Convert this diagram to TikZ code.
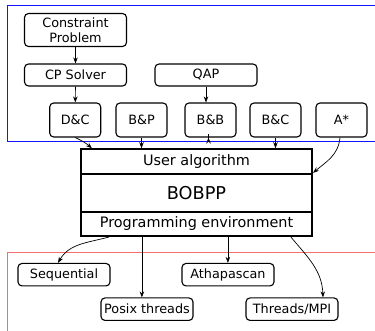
\documentclass[tikz,border=0pt]{standalone}
\usepackage{fontspec}
\setmainfont{DejaVu Sans}
\usetikzlibrary{calc,arrows.meta}
\definecolor{upperblue}{RGB}{20,20,255}
\definecolor{lowerred}{RGB}{245,110,110}
\tikzset{
	algbox/.style={draw,line width=1.1pt,rounded corners=4pt,inner sep=0pt,
		minimum width=51pt,minimum height=34pt,font=\fontsize{12.8}{15}\selectfont},
	probbox/.style={algbox,minimum width=102pt,minimum height=22pt,align=center},
	envbox/.style={algbox,minimum width=92pt,minimum height=22.5pt},
	layer/.style={draw,line width=2.2pt,inner sep=0pt,minimum width=231pt,font=\fontsize{14.4}{16}\selectfont},
	link/.style={-{Stealth[length=6pt,width=4.5pt]},line width=0.7pt}
}

\begin{document}
\begin{tikzpicture}[x=1pt,y=1pt]
	\useasboundingbox (0,0) rectangle (375,331);
	
	%frames
	\draw[draw=upperblue,line width=1.2pt] (380,325.3)--(7.5,325.3)--(7.5,189.3)--(380,189.3);	%upper
	\draw[draw=lowerred,line width=1pt] (380,78.3)--(7.5,78.3)--(7.5,-5);				%lower
	
	%problems
	\node[probbox,minimum height=33pt] (cp)  at (75.5,301) {Constraint\\Problem};
	\node[probbox] (cps) at (75.5,256) {CP Solver};
	\node[probbox] (qap) at (206,256)  {QAP};
	
	%algorithms
	\node[algbox] (dc) at (75.2,211)  {D\&C};
	\node[algbox] (bp) at (141.5,211) {B\&P};
	\node[algbox] (bb) at (210.5,211) {B\&B};
	\node[algbox] (bc) at (275.5,211) {B\&C};
	\node[algbox] (as) at (341.5,211) {A*};
	
	%bobpp layers
	\node[layer,minimum height=24.7pt] (ua) at (196.5,169.3) {User algorithm};
	\node[layer,minimum height=37.7pt,font=\fontsize{17.7}{20}\selectfont] (bobpp) at (196.5,138.2) {BOBPP};
	\node[layer,minimum height=24.3pt] (pe) at (196.5,107.2) {Programming environment};
	
	%environments
	\node[envbox] (seq) at (64,56.3)  {Sequential};
	\node[envbox] (ath) at (228,56.3) {Athapascan};
	\node[envbox] (pt)  at (147,21.8) {Posix threads};
	\node[envbox] (tm)  at (292,21.8) {Threads/MPI};
	
	%arrows above
	\draw[link] (cp)--(cps);
	\draw[link] (cps)--(dc);
	\draw[link] (qap.south)--(qap.south |- bb.north);
	\draw[link] (dc.south) to[bend left=8] ($(ua.north west)+(12,0)$);
	\draw[link] (bp.south)--(bp.south |- ua.north);
	\draw[link] ($(bb.south)+(-2,0)$)--($(bb.south)+(-2,0)$ |- ua.north);
	\draw[link] (bc.south)--(bc.south |- ua.north);
	\draw[link] ($(as.south)+(-1.5,0)$) to[out=-95,in=40] (bobpp.north east);
	
	%arrows below
	\coordinate (p1) at ($(pe.south west)+(29,0)$);
	\coordinate (p2) at ($(pe.south west)+(62,0)$);
	\coordinate (p3) at ($(pe.south west)+(148,0)$);
	\coordinate (p4) at ($(pe.south west)+(211,0)$);
	\draw[link] (p1) to[out=-165,in=60] ($(seq.north)+(-6,0)$);
	\draw[link] (p2)--(p2 |- pt.north);
	\draw[link] (p3)--(p3 |- ath.north);
	\draw[link] (p4) to[out=-50,in=92] ($(tm.north)+(31,0)$);
\end{tikzpicture}
\end{document}
